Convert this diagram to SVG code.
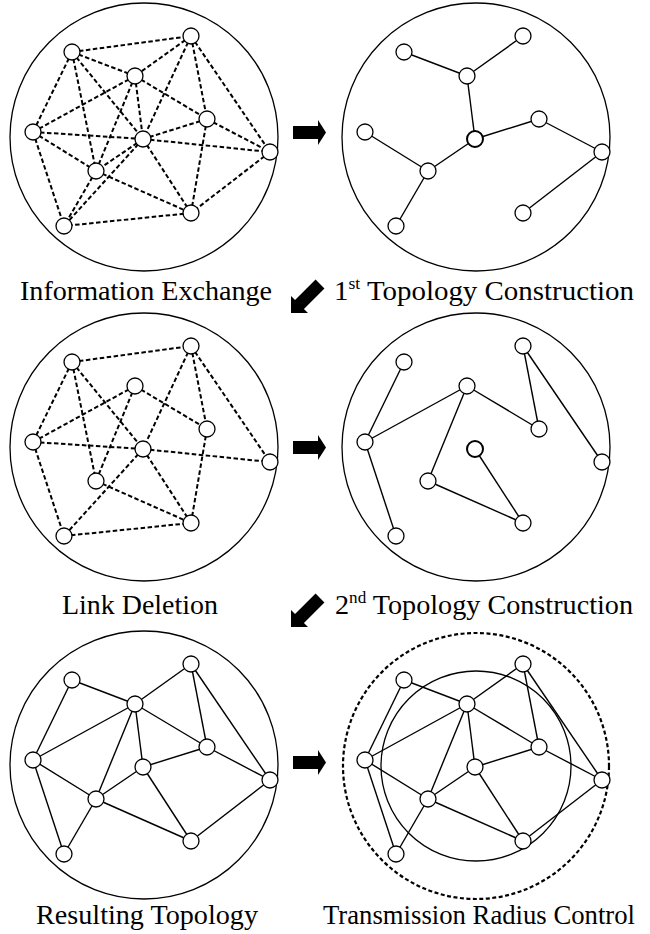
<svg xmlns="http://www.w3.org/2000/svg" width="650" height="934" viewBox="0 0 650 934">
<style>
.frame{fill:none;stroke:#000;stroke-width:1.3}
.frameDash{fill:none;stroke:#000;stroke-width:2.2;stroke-dasharray:4 2.5}
.dash line{stroke:#000;stroke-width:2;stroke-dasharray:4.5 2.5}
.solid line{stroke:#000;stroke-width:1.4}
.node circle{fill:#fff;stroke:#000;stroke-width:1.3}
.node.src circle{stroke-width:2}
.arrow{fill:#000}
.label{font-size:28px;fill:#000;text-anchor:middle}
.sup{font-size:17px}
</style>

<!-- Panel 1: Information Exchange -->
<g id="panel1">
  <circle class="frame" cx="144" cy="137" r="134"/>
  <g id="p1-links" class="dash">
    <line x1="72" y1="52" x2="191" y2="36"/>
    <line x1="72" y1="52" x2="135" y2="76"/>
    <line x1="72" y1="52" x2="33" y2="132"/>
    <line x1="72" y1="52" x2="143" y2="139"/>
    <line x1="72" y1="52" x2="96" y2="171"/>
    <line x1="191" y1="36" x2="135" y2="76"/>
    <line x1="191" y1="36" x2="207" y2="119"/>
    <line x1="191" y1="36" x2="143" y2="139"/>
    <line x1="191" y1="36" x2="270" y2="152"/>
    <line x1="135" y1="76" x2="207" y2="119"/>
    <line x1="135" y1="76" x2="33" y2="132"/>
    <line x1="135" y1="76" x2="143" y2="139"/>
    <line x1="135" y1="76" x2="96" y2="171"/>
    <line x1="207" y1="119" x2="143" y2="139"/>
    <line x1="207" y1="119" x2="270" y2="152"/>
    <line x1="207" y1="119" x2="191" y2="213"/>
    <line x1="33" y1="132" x2="143" y2="139"/>
    <line x1="33" y1="132" x2="96" y2="171"/>
    <line x1="33" y1="132" x2="64" y2="226"/>
    <line x1="143" y1="139" x2="270" y2="152"/>
    <line x1="143" y1="139" x2="96" y2="171"/>
    <line x1="143" y1="139" x2="191" y2="213"/>
    <line x1="143" y1="139" x2="64" y2="226"/>
    <line x1="270" y1="152" x2="191" y2="213"/>
    <line x1="96" y1="171" x2="191" y2="213"/>
    <line x1="96" y1="171" x2="64" y2="226"/>
    <line x1="191" y1="213" x2="64" y2="226"/>
  </g>
  <g id="p1-A" class="node"><circle cx="72" cy="52" r="8"/></g>
  <g id="p1-B" class="node"><circle cx="191" cy="36" r="8"/></g>
  <g id="p1-C" class="node"><circle cx="135" cy="76" r="8"/></g>
  <g id="p1-D" class="node"><circle cx="207" cy="119" r="8"/></g>
  <g id="p1-E" class="node"><circle cx="33" cy="132" r="8"/></g>
  <g id="p1-F" class="node"><circle cx="143" cy="139" r="8"/></g>
  <g id="p1-G" class="node"><circle cx="270" cy="152" r="8"/></g>
  <g id="p1-H" class="node"><circle cx="96" cy="171" r="8"/></g>
  <g id="p1-I" class="node"><circle cx="191" cy="213" r="8"/></g>
  <g id="p1-J" class="node"><circle cx="64" cy="226" r="8"/></g>
</g>

<!-- Panel 2: Link Deletion -->
<g id="panel2" transform="translate(0,310)">
  <circle class="frame" cx="144" cy="137" r="134"/>
  <g id="p2-links" class="dash">
    <line x1="72" y1="52" x2="191" y2="36"/>
    <line x1="72" y1="52" x2="33" y2="132"/>
    <line x1="72" y1="52" x2="96" y2="171"/>
    <line x1="72" y1="52" x2="143" y2="139"/>
    <line x1="191" y1="36" x2="143" y2="139"/>
    <line x1="191" y1="36" x2="207" y2="119"/>
    <line x1="191" y1="36" x2="270" y2="152"/>
    <line x1="135" y1="76" x2="33" y2="132"/>
    <line x1="135" y1="76" x2="96" y2="171"/>
    <line x1="135" y1="76" x2="207" y2="119"/>
    <line x1="33" y1="132" x2="143" y2="139"/>
    <line x1="33" y1="132" x2="64" y2="226"/>
    <line x1="143" y1="139" x2="270" y2="152"/>
    <line x1="143" y1="139" x2="64" y2="226"/>
    <line x1="143" y1="139" x2="191" y2="213"/>
    <line x1="96" y1="171" x2="191" y2="213"/>
    <line x1="207" y1="119" x2="191" y2="213"/>
    <line x1="64" y1="226" x2="191" y2="213"/>
  </g>
  <g id="p2-A" class="node"><circle cx="72" cy="52" r="8"/></g>
  <g id="p2-B" class="node"><circle cx="191" cy="36" r="8"/></g>
  <g id="p2-C" class="node"><circle cx="135" cy="76" r="8"/></g>
  <g id="p2-D" class="node"><circle cx="207" cy="119" r="8"/></g>
  <g id="p2-E" class="node"><circle cx="33" cy="132" r="8"/></g>
  <g id="p2-F" class="node"><circle cx="143" cy="139" r="8"/></g>
  <g id="p2-G" class="node"><circle cx="270" cy="152" r="8"/></g>
  <g id="p2-H" class="node"><circle cx="96" cy="171" r="8"/></g>
  <g id="p2-I" class="node"><circle cx="191" cy="213" r="8"/></g>
  <g id="p2-J" class="node"><circle cx="64" cy="226" r="8"/></g>
</g>

<!-- Panel 3: 1st Topology Construction -->
<g id="panel3" transform="translate(332,0)">
  <circle class="frame" cx="144" cy="137" r="134"/>
  <g id="p3-links" class="solid">
    <line x1="72" y1="52" x2="135" y2="76"/>
    <line x1="191" y1="36" x2="135" y2="76"/>
    <line x1="135" y1="76" x2="143" y2="139"/>
    <line x1="143" y1="139" x2="207" y2="119"/>
    <line x1="207" y1="119" x2="270" y2="152"/>
    <line x1="270" y1="152" x2="191" y2="213"/>
    <line x1="33" y1="132" x2="96" y2="171"/>
    <line x1="96" y1="171" x2="143" y2="139"/>
    <line x1="96" y1="171" x2="64" y2="226"/>
  </g>
  <g id="p3-A" class="node"><circle cx="72" cy="52" r="8"/></g>
  <g id="p3-B" class="node"><circle cx="191" cy="36" r="8"/></g>
  <g id="p3-C" class="node"><circle cx="135" cy="76" r="8"/></g>
  <g id="p3-D" class="node"><circle cx="207" cy="119" r="8"/></g>
  <g id="p3-E" class="node"><circle cx="33" cy="132" r="8"/></g>
  <g id="p3-F" class="node src"><circle cx="143" cy="139" r="8"/></g>
  <g id="p3-G" class="node"><circle cx="270" cy="152" r="8"/></g>
  <g id="p3-H" class="node"><circle cx="96" cy="171" r="8"/></g>
  <g id="p3-I" class="node"><circle cx="191" cy="213" r="8"/></g>
  <g id="p3-J" class="node"><circle cx="64" cy="226" r="8"/></g>
</g>

<!-- Panel 4: 2nd Topology Construction -->
<g id="panel4" transform="translate(332,310)">
  <circle class="frame" cx="144" cy="137" r="134"/>
  <g id="p4-links" class="solid">
    <line x1="72" y1="52" x2="33" y2="132"/>
    <line x1="33" y1="132" x2="135" y2="76"/>
    <line x1="33" y1="132" x2="64" y2="226"/>
    <line x1="135" y1="76" x2="96" y2="171"/>
    <line x1="135" y1="76" x2="207" y2="119"/>
    <line x1="207" y1="119" x2="191" y2="36"/>
    <line x1="191" y1="36" x2="270" y2="152"/>
    <line x1="96" y1="171" x2="191" y2="213"/>
    <line x1="191" y1="213" x2="143" y2="139"/>
  </g>
  <g id="p4-A" class="node"><circle cx="72" cy="52" r="8"/></g>
  <g id="p4-B" class="node"><circle cx="191" cy="36" r="8"/></g>
  <g id="p4-C" class="node"><circle cx="135" cy="76" r="8"/></g>
  <g id="p4-D" class="node"><circle cx="207" cy="119" r="8"/></g>
  <g id="p4-E" class="node"><circle cx="33" cy="132" r="8"/></g>
  <g id="p4-F" class="node src"><circle cx="143" cy="139" r="8"/></g>
  <g id="p4-G" class="node"><circle cx="270" cy="152" r="8"/></g>
  <g id="p4-H" class="node"><circle cx="96" cy="171" r="8"/></g>
  <g id="p4-I" class="node"><circle cx="191" cy="213" r="8"/></g>
  <g id="p4-J" class="node"><circle cx="64" cy="226" r="8"/></g>
</g>

<!-- Panel 5: Resulting Topology -->
<g id="panel5" transform="translate(0,628)">
  <circle class="frame" cx="144" cy="137" r="134"/>
  <g id="p5-links" class="solid">
    <line x1="72" y1="52" x2="135" y2="76"/>
    <line x1="72" y1="52" x2="33" y2="132"/>
    <line x1="191" y1="36" x2="135" y2="76"/>
    <line x1="191" y1="36" x2="207" y2="119"/>
    <line x1="191" y1="36" x2="270" y2="152"/>
    <line x1="135" y1="76" x2="33" y2="132"/>
    <line x1="135" y1="76" x2="207" y2="119"/>
    <line x1="135" y1="76" x2="143" y2="139"/>
    <line x1="135" y1="76" x2="96" y2="171"/>
    <line x1="33" y1="132" x2="96" y2="171"/>
    <line x1="33" y1="132" x2="64" y2="226"/>
    <line x1="143" y1="139" x2="207" y2="119"/>
    <line x1="143" y1="139" x2="96" y2="171"/>
    <line x1="143" y1="139" x2="191" y2="213"/>
    <line x1="207" y1="119" x2="270" y2="152"/>
    <line x1="96" y1="171" x2="191" y2="213"/>
    <line x1="96" y1="171" x2="64" y2="226"/>
    <line x1="270" y1="152" x2="191" y2="213"/>
  </g>
  <g id="p5-A" class="node"><circle cx="72" cy="52" r="8"/></g>
  <g id="p5-B" class="node"><circle cx="191" cy="36" r="8"/></g>
  <g id="p5-C" class="node"><circle cx="135" cy="76" r="8"/></g>
  <g id="p5-D" class="node"><circle cx="207" cy="119" r="8"/></g>
  <g id="p5-E" class="node"><circle cx="33" cy="132" r="8"/></g>
  <g id="p5-F" class="node"><circle cx="143" cy="139" r="8"/></g>
  <g id="p5-G" class="node"><circle cx="270" cy="152" r="8"/></g>
  <g id="p5-H" class="node"><circle cx="96" cy="171" r="8"/></g>
  <g id="p5-I" class="node"><circle cx="191" cy="213" r="8"/></g>
  <g id="p5-J" class="node"><circle cx="64" cy="226" r="8"/></g>
</g>

<!-- Panel 6: Transmission Radius Control -->
<g id="panel6" transform="translate(332,628)">
  <circle class="frameDash" cx="144" cy="138" r="133"/>
  <circle class="frame" cx="144" cy="138" r="95"/>
  <g id="p6-links" class="solid">
    <line x1="72" y1="52" x2="135" y2="76"/>
    <line x1="72" y1="52" x2="33" y2="132"/>
    <line x1="191" y1="36" x2="135" y2="76"/>
    <line x1="191" y1="36" x2="207" y2="119"/>
    <line x1="191" y1="36" x2="270" y2="152"/>
    <line x1="135" y1="76" x2="33" y2="132"/>
    <line x1="135" y1="76" x2="207" y2="119"/>
    <line x1="135" y1="76" x2="143" y2="139"/>
    <line x1="135" y1="76" x2="96" y2="171"/>
    <line x1="33" y1="132" x2="96" y2="171"/>
    <line x1="33" y1="132" x2="64" y2="226"/>
    <line x1="143" y1="139" x2="207" y2="119"/>
    <line x1="143" y1="139" x2="96" y2="171"/>
    <line x1="143" y1="139" x2="191" y2="213"/>
    <line x1="207" y1="119" x2="270" y2="152"/>
    <line x1="96" y1="171" x2="191" y2="213"/>
    <line x1="96" y1="171" x2="64" y2="226"/>
    <line x1="270" y1="152" x2="191" y2="213"/>
  </g>
  <g id="p6-A" class="node"><circle cx="72" cy="52" r="8"/></g>
  <g id="p6-B" class="node"><circle cx="191" cy="36" r="8"/></g>
  <g id="p6-C" class="node"><circle cx="135" cy="76" r="8"/></g>
  <g id="p6-D" class="node"><circle cx="207" cy="119" r="8"/></g>
  <g id="p6-E" class="node"><circle cx="33" cy="132" r="8"/></g>
  <g id="p6-F" class="node"><circle cx="143" cy="139" r="8"/></g>
  <g id="p6-G" class="node"><circle cx="270" cy="152" r="8"/></g>
  <g id="p6-H" class="node"><circle cx="96" cy="171" r="8"/></g>
  <g id="p6-I" class="node"><circle cx="191" cy="213" r="8"/></g>
  <g id="p6-J" class="node"><circle cx="64" cy="226" r="8"/></g>
</g>

<!-- Step arrows -->
<g id="arrows">
  <path class="arrow" d="M293,126 L318,126 L318,120 L326,132.5 L318,145 L318,139 L293,139 Z"/>
  <path class="arrow" d="M293,441 L318,441 L318,435 L326,447.5 L318,460 L318,454 L293,454 Z"/>
  <path class="arrow" d="M293,756 L318,756 L318,750 L326,762.5 L318,775 L318,769 L293,769 Z"/>
  <path class="arrow" transform="translate(320,284) rotate(135)" d="M0,-6.3 L29,-6.3 L29,-12 L41,0 L29,12 L29,6.3 L0,6.3 Z"/>
  <path class="arrow" transform="translate(320,598) rotate(135)" d="M0,-6.3 L29,-6.3 L29,-12 L41,0 L29,12 L29,6.3 L0,6.3 Z"/>
</g>

<!-- Labels -->
<g id="labels" font-family="'Liberation Serif', 'Times New Roman', Times, serif">
  <text class="label" x="146" y="300" textLength="252" lengthAdjust="spacingAndGlyphs">Information Exchange</text>
  <text class="label" x="484" y="300" textLength="300" lengthAdjust="spacingAndGlyphs">1<tspan class="sup" dy="-11">st</tspan><tspan dy="11"> Topology Construction</tspan></text>
  <text class="label" x="140" y="614" textLength="156" lengthAdjust="spacingAndGlyphs">Link Deletion</text>
  <text class="label" x="484" y="614" textLength="298" lengthAdjust="spacingAndGlyphs">2<tspan class="sup" dy="-11">nd</tspan><tspan dy="11"> Topology Construction</tspan></text>
  <text class="label" x="147" y="924" textLength="222" lengthAdjust="spacingAndGlyphs">Resulting Topology</text>
  <text class="label" x="479" y="924" textLength="312" lengthAdjust="spacingAndGlyphs">Transmission Radius Control</text>
</g>
</svg>
